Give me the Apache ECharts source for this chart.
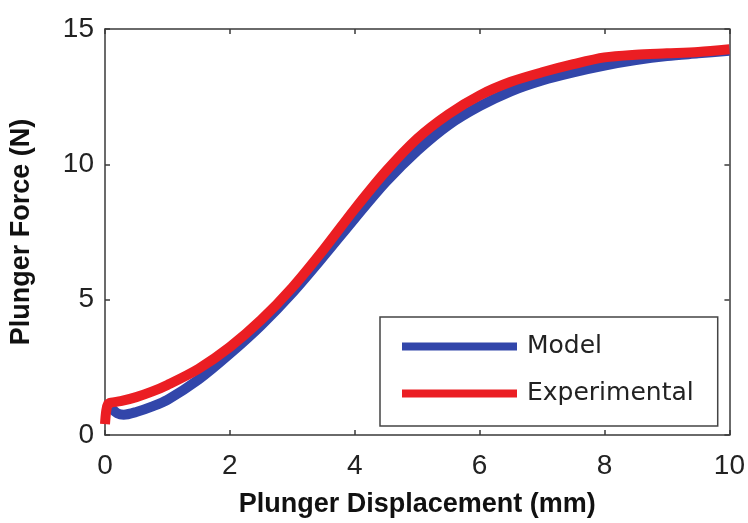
<!DOCTYPE html>
<html>
<head>
<meta charset="utf-8">
<script src="https://cdn.jsdelivr.net/npm/echarts@6/dist/echarts.min.js"></script>
<style>
  html, body { margin: 0; padding: 0; background: #fff; }
  #chart { width: 748px; height: 523px; }
</style>
</head>
<body>
<div id="chart"></div>
<script>
// values
const modelX = [0.1, 0.2, 0.3, 0.5, 0.75, 1, 1.5, 2, 2.5, 3, 3.5, 4, 4.5, 5, 5.5, 6, 6.5, 7, 7.5, 8, 8.5, 9, 9.5, 10];
const modelY = [1.0, 0.8, 0.75, 0.85, 1.05, 1.3, 2.05, 3.0, 4.05, 5.25, 6.6, 8.0, 9.35, 10.5, 11.45, 12.15, 12.7, 13.1, 13.4, 13.65, 13.85, 14.0, 14.1, 14.2];

const expX = [0, 0.02, 0.05, 0.1, 0.25, 0.5, 0.75, 1, 1.5, 2, 2.5, 3, 3.5, 4, 4.5, 5, 5.5, 6, 6.5, 7, 7.5, 8, 8.5, 9, 9.5, 10];
const expY = [0.4, 0.9, 1.15, 1.2, 1.25, 1.4, 1.6, 1.85, 2.45, 3.25, 4.25, 5.45, 6.85, 8.35, 9.75, 10.95, 11.85, 12.55, 13.05, 13.4, 13.7, 13.95, 14.05, 14.1, 14.15, 14.25];

const seriesNames = ['Model', 'Experimental'];
const xTicks = { min: 0, max: 10, interval: 2 };
const yTicks = { min: 0, max: 15, interval: 5 };

const pairs = (xs, ys) => xs.map((x, i) => [x, ys[i]]);

const axisColor = '#3a3a3a';
const font = 'Liberation Sans, Arial, sans-serif';

// box-style axis: line + inward ticks, mirrored on top/right
function boxAxis(extra) {
  return Object.assign({
    type: 'value',
    splitLine: { show: false },
    axisLine: { show: true, onZero: false, lineStyle: { color: axisColor, width: 1.5 } },
    axisTick: { show: true, inside: true, length: 5, lineStyle: { color: axisColor, width: 1.5 } },
    axisLabel: { show: false }
  }, extra);
}

const myChart = echarts.init(document.getElementById('chart'));
myChart.setOption({
  animation: false,
  backgroundColor: '#fff',
  grid: { left: 104, right: 18, top: 29, bottom: 88 },
  legend: {
    data: seriesNames,
    orient: 'vertical',
    left: 380,
    top: 317,
    padding: [17, 24, 20, 22],
    itemGap: 22,
    itemWidth: 115,
    itemHeight: 8,
    icon: 'rect',
    backgroundColor: '#fff',
    borderColor: '#444',
    borderWidth: 1.5,
    textStyle: { fontFamily: 'DejaVu Sans', fontSize: 25, color: '#222', padding: [0, 0, 0, 5] }
  },
  xAxis: [
    boxAxis(Object.assign({}, xTicks, {
      position: 'bottom',
      name: 'Plunger Displacement (mm)',
      nameLocation: 'middle',
      nameGap: 56,
      nameTextStyle: { fontFamily: font, fontSize: 27, fontWeight: 'bold', color: '#111' },
      axisLabel: { show: true, margin: 17, fontFamily: font, fontSize: 28, color: '#222' }
    })),
    boxAxis(Object.assign({}, xTicks, { position: 'top' }))
  ],
  yAxis: [
    boxAxis(Object.assign({}, yTicks, {
      position: 'left',
      name: 'Plunger Force (N)',
      nameLocation: 'middle',
      nameGap: 70,
      nameTextStyle: { fontFamily: font, fontSize: 27, fontWeight: 'bold', color: '#111' },
      axisLabel: { show: true, margin: 11, fontFamily: font, fontSize: 28, color: '#222' }
    })),
    boxAxis(Object.assign({}, yTicks, { position: 'right' }))
  ],
  series: [
    {
      name: seriesNames[0],
      type: 'line',
      data: pairs(modelX, modelY),
      smooth: 0.3,
      showSymbol: false,
      color: '#3246aa',
      lineStyle: { width: 10, color: '#3246aa' }
    },
    {
      name: seriesNames[1],
      type: 'line',
      data: pairs(expX, expY),
      smooth: 0.3,
      showSymbol: false,
      color: '#eb1e23',
      lineStyle: { width: 10, color: '#eb1e23' }
    }
  ]
});
</script>
</body>
</html>
